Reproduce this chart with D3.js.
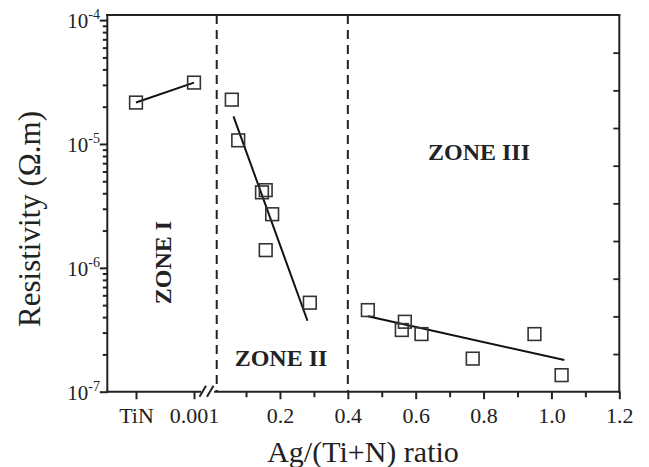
<!DOCTYPE html>
<html>
<head>
<meta charset="utf-8">
<script src="https://cdn.jsdelivr.net/npm/d3@7"></script>
<style>
  html, body { margin: 0; padding: 0; background: #fff; }
  svg { display: block; }
  text { font-family: "Liberation Serif", "Times New Roman", serif; fill: #222; }
</style>
</head>
<body>
<svg id="chart" width="649" height="467"></svg>
<script>
// ---------------- data ----------------
const leftCategories = ["TiN", "0.001"];
const zone1Values = [2.16e-5, 3.13e-5];

const zone2X = [0.058, 0.077, 0.147, 0.158, 0.177, 0.158, 0.288];
const zone2Y = [2.28e-5, 1.07e-5, 4.07e-6, 4.24e-6, 2.71e-6, 1.39e-6, 5.23e-7];

const zone3X = [0.459, 0.568, 0.559, 0.617, 0.768, 0.950, 1.030];
const zone3Y = [4.56e-7, 3.67e-7, 3.15e-7, 2.92e-7, 1.85e-7, 2.92e-7, 1.36e-7];

const fit2X = [0.063, 0.281];
const fit2Y = [1.67e-5, 3.74e-7];
const fit3X = [0.459, 1.038];
const fit3Y = [4.07e-7, 1.80e-7];

const zoneBoundaries = [0.0136, 0.4];
const xTickValues = [0.2, 0.4, 0.6, 0.8, 1.0, 1.2];
const xMinorValues = [0.1, 0.3, 0.5, 0.7, 0.9, 1.1];
const yMajorExponents = [-7, -6, -5, -4];
const zoneLabels = ["ZONE I", "ZONE II", "ZONE III"];
const xTitle = "Ag/(Ti+N) ratio";
const yTitle = "Resistivity (\u03A9.m)";

// ---------------- layout ----------------
const L = 107.3, R = 619.3, T = 15, B = 391.7;
const INK = "#222";

const svg = d3.select("#chart");

const y = d3.scaleLog().domain([1e-7, 1.1e-4]).range([B, T]);
const xLin = d3.scaleLinear().domain([0, 1.2]).range([212.1, R]);
const xLeft = d3.scalePoint().domain(leftCategories).range([136, 194]);

// minor y ticks
const yMinor = [];
yMajorExponents.slice(0, 3).forEach(e => {
  for (let k = 2; k <= 9; k++) yMinor.push(k * Math.pow(10, e));
});
const yMajor = yMajorExponents.map(e => Math.pow(10, e));

// ---- left y axis ----
const gyMinor = svg.append("g").attr("transform", `translate(${L},0)`)
  .call(d3.axisLeft(y).tickValues(yMinor).tickSize(4.5).tickFormat(""));
const gyMajor = svg.append("g").attr("transform", `translate(${L},0)`)
  .call(d3.axisLeft(y).tickValues(yMajor).tickSize(7.5).tickFormat(""));
[gyMinor, gyMajor].forEach(g => {
  g.select(".domain").remove();
  g.selectAll("line").attr("stroke", INK).attr("stroke-width", 2);
});

// y tick labels with superscripts
yMajorExponents.forEach(e => {
  const t = svg.append("text")
    .attr("x", 100).attr("y", y(Math.pow(10, e)) + 8)
    .attr("text-anchor", "end")
    .style("font-size", "21px");
  t.append("tspan").text("10");
  t.append("tspan").text(String(e)).attr("dy", -9).style("font-size", "14px");
});

// ---- right axis: inward ticks ----
const yRight = d3.scaleLinear().domain([0, 10]).range([B, T]);
const gyR = svg.append("g").attr("transform", `translate(${R},0)`)
  .call(d3.axisLeft(yRight).tickValues(d3.range(1, 10)).tickSize(6).tickFormat(""));
gyR.select(".domain").remove();
gyR.selectAll("line").attr("stroke", INK).attr("stroke-width", 1.8).attr("x2", 0).attr("x1", -6)
  .each(function() { d3.select(this).attr("x2", -6).attr("x1", 0); });

// ---- bottom axes ----
const gxMajor = svg.append("g").attr("transform", `translate(0,${B})`)
  .call(d3.axisBottom(xLin).tickValues(xTickValues).tickSize(7.5).tickFormat(d3.format(".1f")));
const gxMinor = svg.append("g").attr("transform", `translate(0,${B})`)
  .call(d3.axisBottom(xLin).tickValues(xMinorValues).tickSize(5.5).tickFormat(""));
const gxLeft = svg.append("g").attr("transform", `translate(0,${B})`)
  .call(d3.axisBottom(xLeft).tickSize(7.5));
[gxMajor, gxMinor, gxLeft].forEach(g => {
  g.select(".domain").remove();
  g.selectAll("line").attr("stroke", INK).attr("stroke-width", 2);
  g.selectAll("text").attr("dy", 0).attr("y", 31.5)
    .style("font-size", "22px").style("font-family", "'Liberation Serif', serif").attr("fill", INK);
});

// ---- frame with broken bottom axis ----
const frame = svg.append("g").attr("stroke", INK).attr("stroke-width", 2).attr("fill", "none");
frame.append("line").attr("x1", L).attr("x2", L).attr("y1", T - 1).attr("y2", B + 1);
frame.append("line").attr("x1", R).attr("x2", R).attr("y1", T - 1).attr("y2", B + 1);
frame.append("line").attr("x1", L - 1).attr("x2", R + 1).attr("y1", T).attr("y2", T);
frame.append("line").attr("x1", L - 1).attr("x2", 201).attr("y1", B).attr("y2", B);
frame.append("line").attr("x1", 214).attr("x2", R + 1).attr("y1", B).attr("y2", B);
[199.5, 207].forEach(bx => {
  frame.append("line").attr("x1", bx).attr("y1", B + 5).attr("x2", bx + 6.5).attr("y2", B - 6);
});

// ---- zone boundaries ----
svg.append("g").selectAll("line").data(zoneBoundaries).join("line")
  .attr("x1", d => xLin(d)).attr("x2", d => xLin(d))
  .attr("y1", T).attr("y2", B)
  .attr("stroke", INK).attr("stroke-width", 2).attr("stroke-dasharray", "9,6");

// ---- fit lines ----
const lineStyle = sel => sel.attr("fill", "none").attr("stroke", "#111").attr("stroke-width", 2);
svg.append("path")
  .attr("d", d3.line()(leftCategories.map((c, i) => [xLeft(c), y(zone1Values[i])])))
  .call(lineStyle);
svg.append("path")
  .attr("d", d3.line()(fit2X.map((v, i) => [xLin(v), y(fit2Y[i])])))
  .call(lineStyle);
svg.append("path")
  .attr("d", d3.line()(fit3X.map((v, i) => [xLin(v), y(fit3Y[i])])))
  .call(lineStyle);

// ---- markers ----
const S = 12.7;
const pts = [];
leftCategories.forEach((c, i) => pts.push([xLeft(c), y(zone1Values[i])]));
zone2X.forEach((v, i) => pts.push([xLin(v), y(zone2Y[i])]));
zone3X.forEach((v, i) => pts.push([xLin(v), y(zone3Y[i])]));
svg.append("g").selectAll("rect").data(pts).join("rect")
  .attr("x", d => d[0] - S / 2).attr("y", d => d[1] - S / 2)
  .attr("width", S).attr("height", S)
  .attr("fill", "none").attr("stroke", "#333").attr("stroke-width", 1.6);

// ---- zone labels ----
svg.append("text").text(zoneLabels[0])
  .attr("transform", "translate(171,262.5) rotate(-90)")
  .attr("text-anchor", "middle")
  .style("font-size", "24px").style("font-weight", "bold");
svg.append("text").text(zoneLabels[1])
  .attr("x", 281).attr("y", 366).attr("text-anchor", "middle")
  .style("font-size", "24px").style("font-weight", "bold");
svg.append("text").text(zoneLabels[2])
  .attr("x", 479).attr("y", 160).attr("text-anchor", "middle")
  .style("font-size", "24px").style("font-weight", "bold");

// ---- axis titles ----
svg.append("text").text(xTitle)
  .attr("x", 363).attr("y", 462).attr("text-anchor", "middle")
  .style("font-size", "30px");
svg.append("text").text(yTitle)
  .attr("transform", "translate(40,219) rotate(-90)")
  .attr("text-anchor", "middle")
  .style("font-size", "31px");
</script>
</body>
</html>
